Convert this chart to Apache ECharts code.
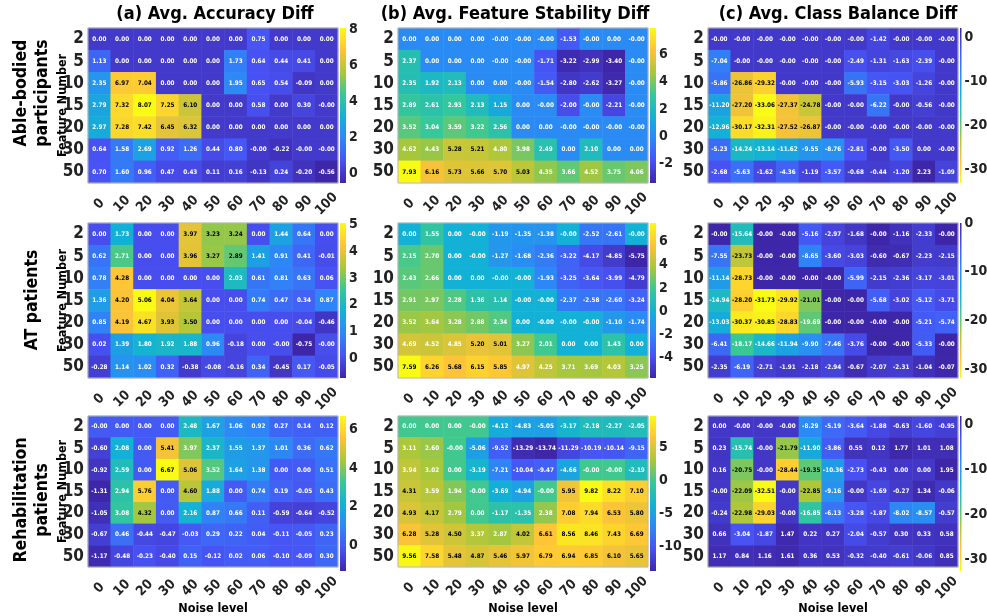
<!DOCTYPE html>
<html><head><meta charset="utf-8">
<script src="https://cdn.jsdelivr.net/npm/echarts@6/dist/echarts.min.js"></script>
<style>html,body{margin:0;padding:0;background:#fff}#c{width:987px;height:616px}</style>
</head><body><div id="c"></div>
<script>
// ---------------- data ----------------
const noiseLevels = ['0','10','20','30','40','50','60','70','80','90','100'];
const featureNumbers = ['2','5','10','15','20','30','50'];
const rowGroups = ['Able-bodied\nparticipants', 'AT patients', 'Rehabilitation\npatients'];
const metricTitles = ['(a) Avg. Accuracy Diff', '(b) Avg. Feature Stability Diff', '(c) Avg. Class Balance Diff'];
const xAxisTitle = 'Noise level';
const yAxisTitle = 'Feature Number';

const ableAccuracy = [
  [0.00,0.00,0.00,0.00,0.00,0.00,0.00,0.75,0.00,0.00,0.00],
  [1.13,0.00,0.00,0.00,0.00,0.00,1.73,0.64,0.44,0.41,0.00],
  [2.35,6.97,7.04,0.00,0.00,0.00,1.95,0.65,0.54,-0.09,0.00],
  [2.79,7.32,8.07,7.25,6.10,0.00,0.00,0.58,0.00,0.30,-0.00],
  [2.97,7.28,7.42,6.45,6.32,0.00,0.00,0.00,0.00,0.00,0.00],
  [0.64,1.58,2.69,0.92,1.26,0.44,0.80,-0.00,-0.22,-0.00,-0.00],
  [0.70,1.60,0.96,0.47,0.43,0.11,0.16,-0.13,0.24,-0.20,-0.56]
];
const ableStability = [
  [0.00,0.00,0.00,0.00,-0.00,-0.00,-0.00,-1.53,-0.00,0.00,-0.00],
  [2.37,0.00,0.00,0.00,-0.00,-0.00,-1.71,-3.22,-2.99,-3.40,-0.00],
  [2.35,1.92,2.13,0.00,0.00,-0.00,-1.54,-2.80,-2.62,-3.27,-0.00],
  [2.89,2.61,2.93,2.13,1.15,0.00,-0.00,-2.00,-0.00,-2.21,-0.00],
  [3.52,3.04,3.59,3.22,2.56,0.00,0.00,-0.00,-0.00,-0.00,-0.00],
  [4.62,4.43,5.28,5.21,4.80,3.98,2.49,0.00,2.10,0.00,0.00],
  [7.93,6.16,5.73,5.66,5.70,5.03,4.35,3.66,4.52,3.75,4.06]
];
const ableBalance = [
  [-0.00,-0.00,-0.00,-0.00,-0.00,-0.00,-0.00,-1.42,-0.00,-0.00,-0.00],
  [-7.04,-0.00,-0.00,-0.00,-0.00,-0.00,-2.49,-1.31,-1.63,-2.39,-0.00],
  [-5.86,-26.86,-29.32,-0.00,-0.00,-0.00,-5.93,-3.15,-3.03,-1.26,-0.00],
  [-11.20,-27.20,-33.06,-27.37,-24.78,-0.00,-0.00,-6.22,-0.00,-0.56,-0.00],
  [-12.96,-30.17,-32.31,-27.52,-26.87,-0.00,-0.00,-0.00,-0.00,-0.00,-0.00],
  [-5.23,-14.24,-13.14,-11.62,-9.55,-8.76,-2.81,-0.00,-3.50,0.00,-0.00],
  [-2.68,-5.63,-1.62,-4.36,-1.19,-3.57,-0.68,-0.44,-1.20,2.23,-1.09]
];
const atAccuracy = [
  [0.00,1.73,0.00,0.00,3.97,3.23,3.24,0.00,1.44,0.64,0.00],
  [0.62,2.71,0.00,0.00,3.96,3.27,2.89,1.41,0.91,0.41,-0.01],
  [0.78,4.28,0.00,0.00,0.00,0.00,2.03,0.61,0.81,0.63,0.06],
  [1.36,4.20,5.06,4.04,3.64,0.00,0.00,0.74,0.47,0.34,0.87],
  [0.85,4.19,4.67,3.93,3.50,0.00,0.00,0.00,0.00,-0.04,-0.46],
  [0.02,1.39,1.80,1.92,1.88,0.96,-0.18,0.00,-0.00,-0.75,-0.00],
  [-0.28,1.14,1.02,0.32,-0.38,-0.08,-0.16,0.34,-0.45,0.17,-0.05]
];
const atStability = [
  [0.00,1.55,0.00,-0.00,-1.19,-1.35,-1.38,-0.00,-2.52,-2.61,-0.00],
  [2.15,2.70,0.00,-0.00,-1.27,-1.68,-2.36,-3.22,-4.17,-4.85,-5.75],
  [2.43,2.66,0.00,0.00,-0.00,-0.00,-1.93,-3.25,-3.64,-3.99,-4.79],
  [2.91,2.97,2.28,1.36,1.14,-0.00,-0.00,-2.37,-2.58,-2.60,-3.24],
  [3.52,3.64,3.28,2.88,2.34,0.00,-0.00,-0.00,-0.00,-1.10,-1.74],
  [4.69,4.52,4.85,5.20,5.01,3.27,2.01,0.00,0.00,1.43,0.00],
  [7.59,6.26,5.68,6.15,5.85,4.97,4.25,3.71,3.69,4.03,3.25]
];
const atBalance = [
  [-0.00,-15.64,-0.00,-0.00,-5.16,-2.97,-1.68,-0.00,-1.16,-2.33,-0.00],
  [-7.55,-23.73,-0.00,-0.00,-8.65,-3.60,-3.03,-0.60,-0.67,-2.23,-2.15],
  [-11.14,-28.73,-0.00,-0.00,-0.00,-0.00,-5.99,-2.15,-2.36,-3.17,-3.01],
  [-14.94,-28.20,-31.73,-29.92,-21.01,-0.00,-0.00,-5.68,-3.02,-5.12,-3.71],
  [-13.03,-30.37,-30.85,-28.83,-19.69,-0.00,-0.00,-0.00,-0.00,-5.21,-5.74],
  [-6.41,-18.17,-14.66,-11.94,-9.90,-7.46,-3.76,-0.00,-0.00,-5.33,-0.00],
  [-2.35,-6.19,-2.71,-1.91,-2.18,-2.94,-0.67,-2.07,-2.31,-1.04,-0.07]
];
const rehabAccuracy = [
  [-0.00,0.00,0.00,0.00,2.48,1.67,1.06,0.92,0.27,0.14,0.12],
  [-0.60,2.08,0.00,5.41,3.97,2.37,1.55,1.37,1.01,0.36,0.62],
  [-0.92,2.59,0.00,6.67,5.06,3.52,1.64,1.38,0.00,0.00,0.51],
  [-1.31,2.94,5.76,0.00,4.60,1.88,0.00,0.74,0.19,-0.05,0.43],
  [-1.05,3.08,4.32,0.00,2.16,0.87,0.66,0.11,-0.59,-0.64,-0.52],
  [-0.67,0.46,-0.44,-0.47,-0.03,0.29,0.22,0.04,-0.11,-0.05,0.23],
  [-1.17,-0.48,-0.23,-0.40,0.15,-0.12,0.02,0.06,-0.10,-0.09,0.30]
];
const rehabStability = [
  [0.00,0.00,0.00,-0.00,-4.12,-4.83,-5.05,-3.17,-2.18,-2.27,-2.05],
  [3.11,2.60,-0.00,-5.06,-9.52,-13.29,-13.74,-11.29,-10.19,-10.14,-9.15],
  [3.94,3.02,0.00,-3.19,-7.21,-10.04,-9.47,-4.66,-0.00,-0.00,-2.19],
  [4.31,3.59,1.94,-0.00,-3.69,-4.94,-0.00,5.95,9.82,8.22,7.10],
  [4.93,4.17,2.79,0.00,-1.17,-1.35,2.38,7.08,7.94,6.53,5.80],
  [6.28,5.28,4.50,3.37,2.87,4.02,6.61,8.56,8.46,7.43,6.69],
  [9.56,7.58,5.48,4.87,5.46,5.97,6.79,6.94,6.85,6.10,5.65]
];
const rehabBalance = [
  [0.00,-0.00,-0.00,-0.00,-8.29,-5.19,-3.64,-1.88,-0.63,-1.60,-0.95],
  [0.23,-15.74,-0.00,-21.79,-11.90,-3.86,0.55,0.12,1.77,1.01,1.08],
  [0.16,-20.75,-0.00,-28.44,-19.35,-10.36,-2.73,-0.43,0.00,0.00,1.95],
  [-0.00,-22.09,-32.51,-0.00,-22.85,-9.16,-0.00,-1.69,-0.27,1.34,-0.06],
  [-0.24,-22.98,-29.03,-0.00,-16.85,-6.13,-3.28,-1.87,-8.02,-8.57,-0.57],
  [0.66,-3.04,-1.87,1.47,0.22,0.27,-2.04,-0.57,0.30,0.33,0.58],
  [1.17,0.84,1.16,1.61,0.36,0.53,-0.32,-0.40,-0.61,-0.06,0.85]
];
// colorbar tick spacing per panel [row][col]
const colorbarTickSteps = [[2, 2, 10], [1, 2, 10], [2, 5, 10]];

// ---------------- styles / layout ----------------
const FONT = "'DejaVu Sans Condensed', 'DejaVu Sans', sans-serif";
const parula = ['#3E26A8','#4852F4','#2E87F7','#12B1D6','#37C897','#ABC739','#FEC338','#F9FB15'];
// cell text turns black beyond this value (for reversed panels: below it)
const darkTextThreshold = [[5, 4.9, -20], [2.8, 4.99, -20.5], [4.0, 4.0, -18]];
const colLeft = [88, 398, 708], rowTop = [28, 223, 416], W = 250, H = 155;

const panels = [
  [ableAccuracy, ableStability, ableBalance],
  [atAccuracy, atStability, atBalance],
  [rehabAccuracy, rehabStability, rehabBalance]
];
const fmt = v => Object.is(v, -0) ? '-0.00' : v.toFixed(2);

const grid = [], xAxis = [], yAxis = [], series = [], visualMap = [];
panels.forEach((row, r) => row.forEach((mat, c) => {
  const flat = mat.flat();
  const vmin = Math.min(...flat), vmax = Math.max(...flat);
  const reversed = c === 2;
  const colors = reversed ? parula.slice().reverse() : parula.slice();
  const thr = darkTextThreshold[r][c];
  const step = colorbarTickSteps[r][c];

  const gi = grid.length;
  grid.push({left: colLeft[c], top: rowTop[r], width: W, height: H, show: true,
             borderColor: '#b8b8b8', borderWidth: 1, backgroundColor: 'transparent', z: 5});
  xAxis.push({type: 'category', gridIndex: gi, data: noiseLevels,
    axisLine: {show: false}, axisTick: {show: true, inside: true, length: 2, alignWithLabel: true, lineStyle: {color: '#999'}},
    splitLine: {show: false},
    axisLabel: {rotate: 45, align: 'center', verticalAlign: 'middle', margin: 21,
      fontSize: 13.5, fontWeight: 'bold', fontFamily: FONT, color: '#222', interval: 0, hideOverlap: false},
    name: r === 2 ? xAxisTitle : '', nameLocation: 'middle', nameGap: 35, nameMoveOverlap: false,
    nameTextStyle: {fontSize: 12.5, fontWeight: 'bold', fontFamily: FONT, color: '#000'}});
  yAxis.push({type: 'category', gridIndex: gi, data: featureNumbers, inverse: true,
    axisLine: {show: false}, axisTick: {show: false}, splitLine: {show: false},
    axisLabel: {margin: 4, fontSize: 17, fontWeight: 'bold', fontFamily: FONT, color: '#222', interval: 0, hideOverlap: false},
    name: c === 0 ? yAxisTitle : '', nameLocation: 'middle', nameGap: 19, nameRotate: 90, nameMoveOverlap: false,
    nameTextStyle: {fontSize: 12.5, fontWeight: 'bold', fontFamily: FONT, color: '#000'}});
  const data = [];
  mat.forEach((vals, yi) => vals.forEach((v, xi) => {
    const dark = reversed ? v < thr : v > thr;
    data.push({value: [xi, yi, v], label: {color: dark ? '#000' : '#fff'}});
  }));
  const si = series.length;
  series.push({type: 'heatmap', xAxisIndex: gi, yAxisIndex: gi, data,
    label: {show: true, formatter: p => fmt(mat[p.value[1]][p.value[0]]),
      fontSize: 6.3, fontWeight: 'bold', fontFamily: FONT},
    emphasis: {disabled: true}, silent: true});
  visualMap.push({show: false, type: 'continuous', seriesIndex: si, dimension: 2,
    min: vmin, max: vmax, inRange: {color: colors}});

  // colour bar
  const gj = grid.length;
  grid.push({left: colLeft[c] + W + 2, top: rowTop[r], width: 6, height: H});
  xAxis.push({type: 'value', gridIndex: gj, min: 0, max: 1, show: false});
  yAxis.push({type: 'value', gridIndex: gj, min: vmin, max: vmax, position: 'right',
    minInterval: step, maxInterval: step,
    axisLine: {show: false}, axisTick: {show: false}, splitLine: {show: false},
    axisLabel: {margin: 3, fontSize: 14, fontWeight: 'bold', fontFamily: FONT, color: '#222',
      showMinLabel: true, showMaxLabel: true, hideOverlap: false,
      formatter: v => {
        const k = v / step;
        return Math.abs(k - Math.round(k)) < 1e-6 ? String(Math.round(k) * step) : '';
      }}});
  const stops = colors.map((col, i) => ({offset: i / (colors.length - 1), color: col}));
  series.push({type: 'custom', xAxisIndex: gj, yAxisIndex: gj, silent: true,
    data: [[0, vmin, vmax]],
    renderItem: (params, api) => {
      const p0 = api.coord([0, api.value(2)]);
      const p1 = api.coord([1, api.value(1)]);
      return {type: 'rect', shape: {x: p0[0], y: p0[1], width: p1[0] - p0[0], height: p1[1] - p0[1]},
        style: {fill: new echarts.graphic.LinearGradient(0, 1, 0, 0, stops)}};
    }});
}));

const graphic = [];
const titleX = [215, 515, 838];
metricTitles.forEach((t, c) => graphic.push({type: 'text', x: titleX[c], y: 14,
  style: {text: t, fontSize: 18, fontWeight: 'bold', fontFamily: FONT, fill: '#000',
    align: 'center', verticalAlign: 'middle'}}));
const rowLabelY = [93, 300, 500];
rowGroups.forEach((t, r) => graphic.push({type: 'text', x: 32, y: rowLabelY[r], rotation: Math.PI / 2,
  style: {text: t, fontSize: 17.5, fontWeight: 'bold', fontFamily: FONT, fill: '#000',
    align: 'center', verticalAlign: 'middle', lineHeight: 21}}));

const chart = echarts.init(document.getElementById('c'), null, {renderer: 'canvas'});
chart.setOption({animation: false, backgroundColor: '#fff', grid, xAxis, yAxis, series, visualMap, graphic});
</script>
</body></html>
